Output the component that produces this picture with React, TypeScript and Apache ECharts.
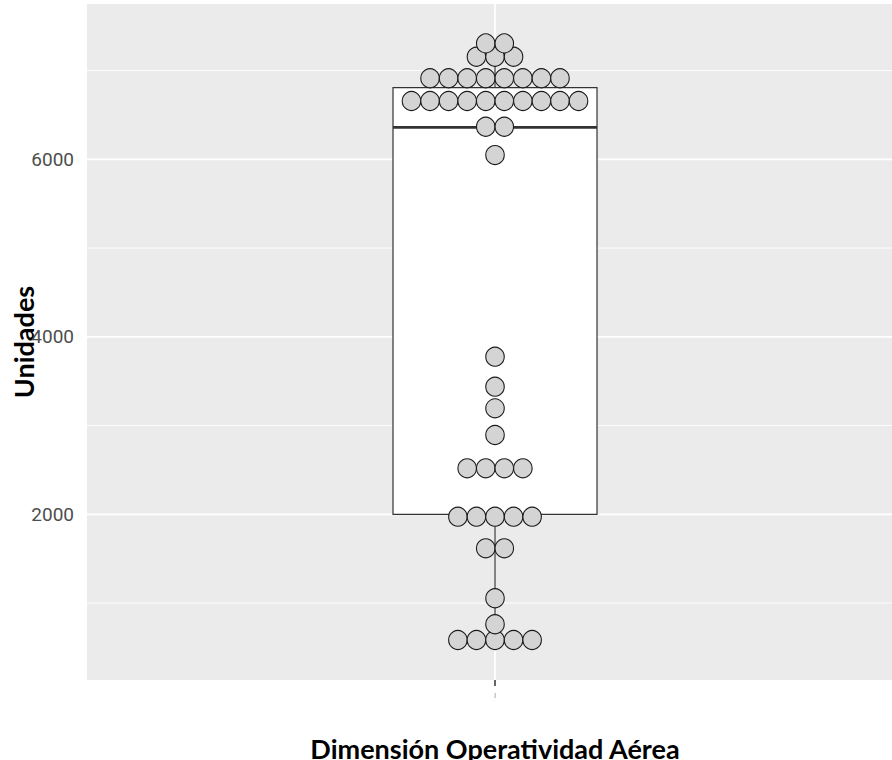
import React, { useEffect, useRef } from "react";
import * as echarts from "echarts";

// ---- data ----
const categoryLabel = "|";
const yAxisTitle = "Unidades";
const xAxisTitle = "Dimensión Operatividad Aérea";

// dot-plot bins (y value of each stack) and the number of dots in each stack
const binValues = [584, 761, 1054, 1617, 1973, 2518, 2894, 3194, 3438, 3776, 6048, 6367, 6657, 6913, 7156, 7306];
const binCounts = [5, 1, 1, 2, 5, 4, 1, 1, 1, 1, 1, 2, 10, 8, 3, 2];

// box plot statistics: lower whisker, Q1, median, Q3, upper whisker
const boxValues = [584, 2000, 6360, 6807, 7306];

const yTickValues = [2000, 4000, 6000];
const yMinorValues = [1000, 3000, 5000, 7000];
const yMin = 133;
const yMax = 7750;

// ---- layout constants ----
const categoryX = 0;
const xMin = -0.6;
const xMax = 0.5838; // the panel is cropped on the right in the reference
const boxHalfWidth = 0.15;
const dotStep = 0.0273;

export default function App() {
  const ref = useRef<HTMLDivElement>(null);

  useEffect(() => {
    if (!ref.current) return;
    const chart = echarts.init(ref.current, undefined, { renderer: "svg" });

    const dots: number[][] = [];
    binValues.forEach((v, b) => {
      const n = binCounts[b];
      for (let i = 0; i < n; i++) {
        dots.push([categoryX + (i - (n - 1) / 2) * dotStep, v]);
      }
    });

    const hLineRender = (width: number) => (params: any, api: any) => {
      const cs = params.coordSys;
      const y = api.coord([categoryX, api.value(1)])[1];
      return {
        type: "line",
        shape: { x1: cs.x, y1: y, x2: cs.x + cs.width, y2: y },
        style: { stroke: "#ffffff", lineWidth: width },
        silent: true,
      };
    };

    const option: any = {
      animation: false,
      backgroundColor: "#ffffff",
      grid: {
        left: 87,
        right: 0,
        top: 4,
        bottom: 80,
        show: true,
        backgroundColor: "#ebebeb",
        borderWidth: 0,
      },
      xAxis: {
        type: "value",
        min: xMin,
        max: xMax,
        splitLine: { show: false },
        axisLine: { show: false },
        axisTick: {
          show: true,
          customValues: [categoryX],
          length: 6,
          lineStyle: { color: "#333333", width: 1.5 },
        },
        axisLabel: {
          customValues: [categoryX],
          formatter: () => categoryLabel,
          fontSize: 6,
          color: "#4d4d4d",
          margin: 12,
        },
      },
      yAxis: {
        type: "value",
        min: yMin,
        max: yMax,
        splitLine: { show: false },
        axisLine: { show: false },
        axisTick: {
          show: true,
          customValues: yTickValues,
          length: 5,
          lineStyle: { color: "#333333", width: 1.2 },
        },
        axisLabel: {
          customValues: yTickValues,
          formatter: (v: number) => String(v),
          fontSize: 19,
          fontFamily: "Roboto, 'Liberation Sans', sans-serif",
          color: "#4d4d4d",
          margin: 13,
        },
      },
      graphic: [
        {
          type: "text",
          x: 23,
          y: 342,
          rotation: Math.PI / 2,
          style: {
            text: yAxisTitle,
            font: "bold 27px Lato, 'Open Sans', sans-serif",
            fill: "#000000",
            align: "center",
            verticalAlign: "middle",
          },
        },
        {
          type: "text",
          x: 495,
          y: 748,
          style: {
            text: xAxisTitle,
            font: "bold 27px Lato, 'Open Sans', sans-serif",
            fill: "#000000",
            align: "center",
            verticalAlign: "middle",
          },
        },
      ],
      series: [
        {
          type: "custom",
          name: "minor",
          data: yMinorValues.map((v) => [categoryX, v]),
          renderItem: hLineRender(0.9),
          silent: true,
        },
        {
          type: "custom",
          name: "major",
          data: yTickValues.map((v) => [categoryX, v]),
          renderItem: hLineRender(1.7),
          silent: true,
        },
        {
          type: "custom",
          name: "vmajor",
          data: [[categoryX, yMin]],
          renderItem: (params: any, api: any) => {
            const cs = params.coordSys;
            const x = api.coord([api.value(0), yMin])[0];
            return {
              type: "line",
              shape: { x1: x, y1: cs.y, x2: x, y2: cs.y + cs.height },
              style: { stroke: "#ffffff", lineWidth: 1.7 },
              silent: true,
            };
          },
          silent: true,
        },
        {
          type: "custom",
          name: "box",
          data: [[categoryX, ...boxValues]],
          renderItem: (params: any, api: any) => {
            const x = api.value(0);
            const low = api.value(1);
            const q1 = api.value(2);
            const med = api.value(3);
            const q3 = api.value(4);
            const high = api.value(5);
            const tl = api.coord([x - boxHalfWidth, q3]);
            const br = api.coord([x + boxHalfWidth, q1]);
            const mL = api.coord([x - boxHalfWidth, med]);
            const mR = api.coord([x + boxHalfWidth, med]);
            const wTop = api.coord([x, high]);
            const wQ3 = api.coord([x, q3]);
            const wQ1 = api.coord([x, q1]);
            const wLow = api.coord([x, low]);
            const stroke = "#333333";
            return {
              type: "group",
              children: [
                {
                  type: "line",
                  shape: { x1: wQ3[0], y1: wQ3[1], x2: wTop[0], y2: wTop[1] },
                  style: { stroke, lineWidth: 1.2 },
                },
                {
                  type: "line",
                  shape: { x1: wQ1[0], y1: wQ1[1], x2: wLow[0], y2: wLow[1] },
                  style: { stroke, lineWidth: 1.2 },
                },
                {
                  type: "rect",
                  shape: { x: tl[0], y: tl[1], width: br[0] - tl[0], height: br[1] - tl[1] },
                  style: { fill: "#ffffff", stroke, lineWidth: 1.2 },
                },
                {
                  type: "line",
                  shape: { x1: mL[0], y1: mL[1], x2: mR[0], y2: mR[1] },
                  style: { stroke, lineWidth: 2.6 },
                },
              ],
            };
          },
          silent: true,
        },
        {
          type: "scatter",
          name: "dots",
          data: dots,
          symbol: "circle",
          symbolSize: [18.5, 19],
          itemStyle: { color: "#d4d4d4", borderColor: "#1a1a1a", borderWidth: 1.1, opacity: 1 },
          silent: true,
        },
      ],
    };

    chart.setOption(option);
    return () => chart.dispose();
  }, []);

  return <div ref={ref} style={{ width: 892, height: 760, position: "absolute", left: 0, top: 0 }} />;
}
